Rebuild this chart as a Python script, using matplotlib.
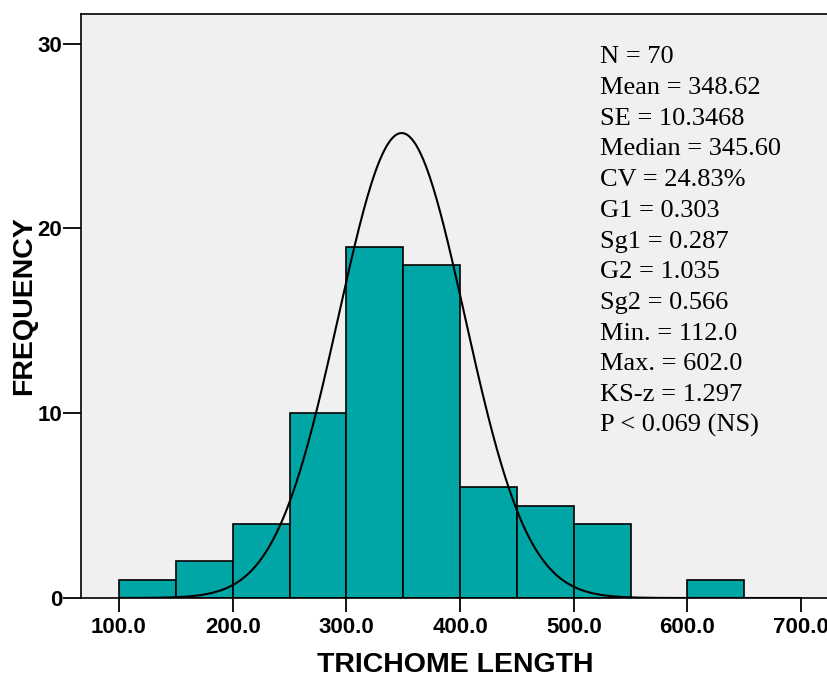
import numpy as np
import matplotlib.pyplot as plt

# histogram bins (left edges, width 50) and counts
bin_left = [100, 150, 200, 250, 300, 350, 400, 450, 500, 550, 600]
counts = [1, 2, 4, 10, 19, 18, 6, 5, 4, 0, 1]
bin_width = 50

# normal curve drawn over the histogram
n_obs = 70
curve_mean = 348.62
curve_sd = 55.5

stats_lines = [
    "N = 70",
    "Mean = 348.62",
    "SE = 10.3468",
    "Median = 345.60",
    "CV = 24.83%",
    "G1 = 0.303",
    "Sg1 = 0.287",
    "G2 = 1.035",
    "Sg2 = 0.566",
    "Min. = 112.0",
    "Max. = 602.0",
    "KS-z = 1.297",
    "P < 0.069 (NS)",
]

xticks = [100, 200, 300, 400, 500, 600, 700]
yticks = [0, 10, 20, 30]

fig = plt.figure(figsize=(8.28, 6.77), dpi=100)
ax = fig.add_axes([81/828, 79/677, 749/828, 584/677])
ax.set_facecolor('#F0F0F0')

ax.bar(bin_left, counts, width=bin_width, align='edge',
       color='#00A6A6', edgecolor='black', linewidth=1.2, zorder=2)

xs = np.linspace(100, 700, 600)
ys = n_obs * bin_width / (curve_sd * np.sqrt(2 * np.pi)) * np.exp(-(xs - curve_mean) ** 2 / (2 * curve_sd ** 2))
ax.plot(xs, ys, color='black', linewidth=1.5, zorder=3)

ax.set_xlim(66.6, 66.6 + 749 / 1.137)
ax.set_ylim(0, 31.6)
ax.set_xticks(xticks)
ax.set_xticklabels(['%.1f' % t for t in xticks])
ax.set_yticks(yticks)

for s in ax.spines.values():
    s.set_linewidth(1.2)
    s.set_color('black')

ax.tick_params(axis='x', direction='out', length=10, width=1.3, color='black', pad=4)
ax.tick_params(axis='y', direction='out', length=13, width=1.3, color='black', pad=0.5)
for lab in ax.get_xticklabels() + ax.get_yticklabels():
    lab.set_fontfamily('Liberation Sans')
    lab.set_fontweight('bold')
    lab.set_fontsize(16)

ax.set_xlabel('TRICHOME LENGTH', fontfamily='Liberation Sans', fontweight='bold',
              fontsize=20.5, labelpad=10)
ax.set_ylabel('FREQUENCY', fontfamily='Liberation Sans', fontweight='bold',
              fontsize=20.5, labelpad=0)

for i, line in enumerate(stats_lines):
    ax.text(0.693, 0.926 - i * 0.0526, line, transform=ax.transAxes,
            fontfamily='Liberation Serif', fontsize=19, va='center', ha='left')

fig.savefig('out.png', dpi=100)
